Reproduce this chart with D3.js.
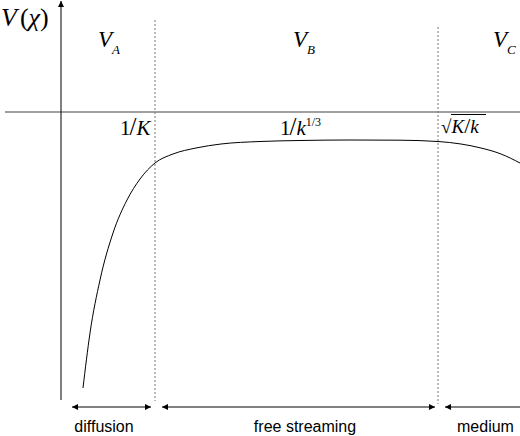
<!DOCTYPE html>
<html>
<head>
<meta charset="utf-8">
<script src="https://cdn.jsdelivr.net/npm/d3@7/dist/d3.min.js"></script>
<style>
html,body{margin:0;padding:0;background:#fff;}
svg{display:block;}
.serif{font-family:"Liberation Serif","Tinos","Times New Roman","DejaVu Serif",serif;}
.sans{font-family:"Liberation Sans",Arial,sans-serif;}
</style>
</head>
<body>
<svg id="chart" width="520" height="436"></svg>
<script>
// ---- data (arbitrary units: x = distance, v = potential) ----
const curveX = [22, 29, 39, 52, 66, 79, 94, 112, 135, 160, 199, 239, 289, 339, 377, 400, 420, 440, 459];
const curveV = [-276, -221, -168, -121, -88, -67, -51, -42, -36, -32, -29.5, -28.5, -28, -28.2, -29.5, -32, -36, -42, -51];
const boundaries = [94, 377];                 // 1/K , sqrt(K/k)
const regionNames = ["A", "B", "C"];
const regionLabelX = [37, 232, 432];
const rangeNames = ["diffusion", "free streaming", "medium"];
const rangeStart = [11, 101, 384];
const rangeEnd = [90, 374, 459];
const rangeLabelX = [43, 244, 396];

const svg = d3.select("#chart");
const x = d3.scaleLinear().domain([0, 459]).range([61, 520]);
const y = d3.scaleLinear().domain([0, -288]).range([112, 400]);

// markers
const defs = svg.append("defs");
defs.append("marker").attr("id", "ah").attr("viewBox", "0 0 10 10")
  .attr("refX", 10).attr("refY", 5).attr("markerWidth", 8).attr("markerHeight", 6)
  .attr("markerUnits", "userSpaceOnUse").attr("orient", "auto-start-reverse")
  .append("path").attr("d", "M0,0L10,5L0,10Z").attr("fill", "#000");

// horizontal axis (grey)
svg.append("line").attr("x1", 5).attr("x2", 520).attr("y1", y(0)).attr("y2", y(0))
  .attr("stroke", "#808080").attr("stroke-width", 1.3);

// vertical axis with arrow
svg.append("line").attr("x1", x(0)).attr("x2", x(0)).attr("y1", 400).attr("y2", 1)
  .attr("stroke", "#000").attr("stroke-width", 1).attr("marker-end", "url(#ah)");

// dotted boundaries
svg.selectAll(".bd").data(boundaries).join("line").attr("class", "bd")
  .attr("x1", d => x(d)).attr("x2", d => x(d))
  .attr("y1", (d, i) => i === 0 ? 20 : 27).attr("y2", (d, i) => i === 0 ? 401 : 404)
  .attr("stroke", "#777").attr("stroke-width", 1).attr("stroke-dasharray", "2,2");

// curve
const pts = curveX.map((d, i) => [d, curveV[i]]);
svg.append("path").datum(pts)
  .attr("d", d3.line().x(d => x(d[0])).y(d => y(d[1])).curve(d3.curveMonotoneX))
  .attr("fill", "none").attr("stroke", "#000").attr("stroke-width", 1);

// V(chi) label
const vl = svg.append("text").attr("class", "serif").attr("x", 1).attr("y", 26).attr("font-size", 26);
vl.append("tspan").attr("font-style", "italic").text("V");
vl.append("tspan").attr("dx", 3).text("(");
vl.append("tspan").attr("font-style", "italic").text("χ");
vl.append("tspan").text(")");

// region labels
regionNames.forEach((n, i) => {
  const t = svg.append("text").attr("class", "serif").attr("x", x(regionLabelX[i])).attr("y", 47)
    .attr("font-size", 23).attr("font-style", "italic");
  t.append("tspan").text("V");
  t.append("tspan").attr("font-size", 13).attr("dy", 7).attr("dx", 0).text(n);
});

// 1/K
const k1 = svg.append("text").attr("class", "serif").attr("x", 120).attr("y", 135).attr("font-size", 21);
k1.append("tspan").text("1");
k1.append("tspan").attr("font-size", 25).attr("dx", -1).text("/");
k1.append("tspan").attr("font-style", "italic").attr("dx", 0).text("K");

// 1/k^{1/3}
const k2 = svg.append("text").attr("class", "serif").attr("x", 280).attr("y", 135).attr("font-size", 21);
k2.append("tspan").text("1");
k2.append("tspan").attr("font-size", 25).attr("dx", -1).text("/");
k2.append("tspan").attr("font-style", "italic").text("k");
k2.append("tspan").attr("font-size", 12).attr("dy", -9).text("1/3");

// sqrt(K/k)
const k3 = svg.append("text").attr("class", "serif").attr("x", 441).attr("y", 133).attr("font-size", 19);
k3.append("tspan").text("√");
k3.append("tspan").attr("font-style", "italic").text("K");
k3.append("tspan").attr("font-size", 22).text("/");
k3.append("tspan").attr("font-style", "italic").text("k");
svg.append("line").attr("x1", 451).attr("x2", 486).attr("y1", 114.5).attr("y2", 114.5)
  .attr("stroke", "#000").attr("stroke-width", 1);

// range arrows
svg.selectAll(".ra").data(rangeStart).join("line").attr("class", "ra")
  .attr("x1", (d, i) => x(d)).attr("x2", (d, i) => x(rangeEnd[i]))
  .attr("y1", 407).attr("y2", 407)
  .attr("stroke", "#000").attr("stroke-width", 1)
  .attr("marker-start", "url(#ah)")
  .attr("marker-end", (d, i) => i === 2 ? null : "url(#ah)");

svg.selectAll(".rl").data(rangeNames).join("text").attr("class", "rl sans")
  .attr("x", (d, i) => x(rangeLabelX[i])).attr("y", 432)
  .attr("font-size", 16).attr("fill", "#000")
  .attr("text-anchor", (d, i) => i === 2 ? "start" : "middle")
  .text(d => d);
</script>
</body>
</html>
